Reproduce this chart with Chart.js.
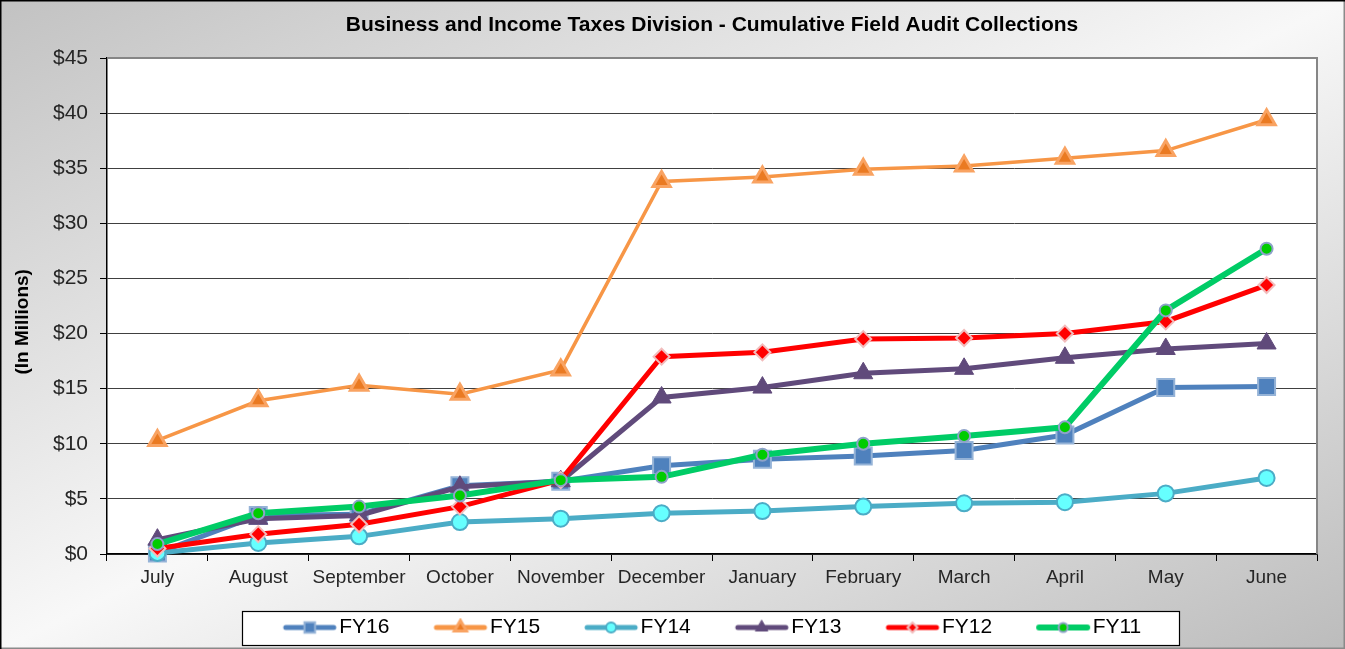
<!DOCTYPE html>
<html>
<head>
<meta charset="utf-8">
<script src="https://cdn.jsdelivr.net/npm/chart.js@4/dist/chart.umd.min.js"></script>
<style>
  html, body { margin: 0; padding: 0; background: #fff; }
  canvas { display: block; }
</style>
</head>
<body>
<canvas id="auditChart" width="1345" height="649"></canvas>
<script>
const months = ['July', 'August', 'September', 'October', 'November', 'December',
  'January', 'February', 'March', 'April', 'May', 'June'];
const seriesNames = ['FY16', 'FY15', 'FY14', 'FY13', 'FY12', 'FY11'];

// cumulative collections, $ millions
const fy16 = [0.1, 3.5, 3.6, 6.2, 6.6, 8.0, 8.6, 8.9, 9.4, 10.8, 15.1, 15.2];
const fy15 = [10.3, 13.9, 15.3, 14.5, 16.7, 33.8, 34.2, 34.9, 35.2, 35.9, 36.6, 39.4];
const fy14 = [0.1, 1.0, 1.6, 2.9, 3.2, 3.7, 3.9, 4.3, 4.6, 4.7, 5.5, 6.9];
const fy13 = [1.3, 3.2, 3.5, 6.1, 6.6, 14.2, 15.1, 16.4, 16.8, 17.8, 18.6, 19.1];
const fy12 = [0.5, 1.8, 2.7, 4.3, 6.7, 17.9, 18.3, 19.5, 19.6, 20.0, 21.1, 24.4];
const fy11 = [0.9, 3.7, 4.3, 5.3, 6.7, 7.0, 9.0, 10.0, 10.7, 11.5, 22.1, 27.7];
const seriesValues = [fy16, fy15, fy14, fy13, fy12, fy11];

const yTicks = [0, 5, 10, 15, 20, 25, 30, 35, 40, 45];

// line + marker looks, same order as seriesNames
const looks = [
  { line: '#4F81BD', width: 5, shape: 'rect', fill: '#4F81BD', edge: '#95B3D7', edgeWidth: 2, radius: 12, legendRadius: 7.5 },
  { line: '#F79646', width: 3.5, shape: 'triangle', fill: '#EA7A22', edge: '#F9A362', edgeWidth: 3, radius: 10, legendRadius: 7 },
  { line: '#4BACC6', width: 5, shape: 'circle', fill: '#66FFFF', edge: '#4BACC6', edgeWidth: 2, radius: 8, legendRadius: 5 },
  { line: '#604A7B', width: 5, shape: 'triangle', fill: '#604A7B', edge: '#604A7B', edgeWidth: 1, radius: 11, legendRadius: 7 },
  { line: '#FF0000', width: 5, shape: 'rectRot', fill: '#FF0000', edge: '#F2BCBC', edgeWidth: 2, radius: 8, legendRadius: 5 },
  { line: '#00CC66', width: 6, shape: 'circle', fill: '#00CC00', edge: '#8EA2C9', edgeWidth: 2, radius: 6, legendRadius: 4.5 }
];

// legend swatch: blank lead-in on the left, line+marker hugging the text
function makeSwatch(look) {
  const c = document.createElement('canvas');
  c.width = 90;
  c.height = 20;
  const g = c.getContext('2d');
  g.strokeStyle = look.line;
  g.lineWidth = Math.max(look.width, 5);
  g.lineCap = 'round';
  g.beginPath();
  g.moveTo(38, 10);
  g.lineTo(86, 10);
  g.stroke();
  g.fillStyle = look.fill;
  g.strokeStyle = look.edge;
  g.lineWidth = look.edgeWidth;
  Chart.helpers.drawPoint(g, { pointStyle: look.shape, radius: look.legendRadius, rotation: 0, borderWidth: look.edgeWidth }, 62, 10);
  return c;
}
const swatches = looks.map(makeSwatch);

const datasets = seriesNames.map((name, i) => ({
  label: name,
  data: seriesValues[i],
  borderColor: looks[i].line,
  borderWidth: looks[i].width,
  backgroundColor: looks[i].fill,
  pointStyle: looks[i].shape,
  pointRadius: looks[i].radius,
  pointBackgroundColor: looks[i].fill,
  pointBorderColor: looks[i].edge,
  pointBorderWidth: looks[i].edgeWidth,
  tension: 0,
  clip: false,
  order: seriesNames.length - 1 - i // later series sit on top
}));

// gradient backdrop, white plot area, legend frame
const backdrop = {
  id: 'backdrop',
  afterLayout(chart) {
    // swatches carry a blank lead-in, pull the legend row back to centre
    if (chart.legend) {
      chart.legend.left -= 13;
      chart.legend.right -= 13;
    }
  },
  beforeDraw(chart) {
    const { ctx, width, height, chartArea: a } = chart;
    ctx.save();
    ctx.setTransform(width, 0, 0, height, 0, 0);
    const g = ctx.createLinearGradient(0, 0, 1, 1);
    g.addColorStop(0, '#C2C2C2');
    g.addColorStop(0.5, '#F8F8F8');
    g.addColorStop(1, '#BCBCBC');
    ctx.fillStyle = g;
    ctx.fillRect(0, 0, 1, 1);
    ctx.restore();

    ctx.save();
    ctx.fillStyle = '#fff';
    ctx.fillRect(a.left, a.top, a.right - a.left, a.bottom - a.top);

    const hb = chart.legend && chart.legend.legendHitBoxes;
    if (hb && hb.length) {
      const first = hb[0], last = hb[hb.length - 1];
      const bx = Math.round(first.left - 15) + 0.5;
      const bw = Math.round(last.left + last.width + 38 - bx);
      const by = Math.round(first.top + first.height / 2 - 17) + 0.5;
      ctx.fillStyle = '#fff';
      ctx.fillRect(bx, by, bw, 34);
      ctx.strokeStyle = '#000';
      ctx.lineWidth = 1.2;
      ctx.strokeRect(bx, by, bw, 34);
    }
    ctx.restore();
  },
  beforeDatasetsDraw(chart) {
    const { ctx, chartArea: a } = chart;
    ctx.save();
    ctx.strokeStyle = '#868686';
    ctx.lineWidth = 2;
    ctx.beginPath();
    ctx.moveTo(a.left, a.top);
    ctx.lineTo(a.right, a.top);
    ctx.lineTo(a.right, a.bottom);
    ctx.stroke();
    ctx.restore();
  },
  afterDraw(chart) {
    const { ctx, width, height } = chart;
    ctx.save();
    ctx.lineWidth = 1.5;
    ctx.strokeStyle = '#8a8a8a';
    ctx.beginPath();
    ctx.moveTo(0, height - 0.75);
    ctx.lineTo(width - 0.75, height - 0.75);
    ctx.lineTo(width - 0.75, 0);
    ctx.stroke();
    ctx.strokeStyle = '#000';
    ctx.beginPath();
    ctx.moveTo(0.75, height);
    ctx.lineTo(0.75, 0.75);
    ctx.lineTo(width, 0.75);
    ctx.stroke();
    ctx.restore();
  }
};

const fontFamily = "'Liberation Sans', Arial, sans-serif";

new Chart(document.getElementById('auditChart').getContext('2d'), {
  type: 'line',
  data: { labels: months, datasets: datasets },
  plugins: [backdrop],
  options: {
    responsive: false,
    animation: false,
    devicePixelRatio: 1,
    layout: { padding: { left: 4, right: 28, top: 0, bottom: 1 } },
    plugins: {
      tooltip: { enabled: false },
      title: {
        display: true,
        fullSize: false,
        text: 'Business and Income Taxes Division - Cumulative Field Audit Collections',
        color: '#000',
        font: { family: fontFamily, size: 21, weight: 'bold' },
        padding: { top: 13, bottom: 19.8 }
      },
      legend: {
        position: 'bottom',
        fullSize: false,
        labels: {
          usePointStyle: true,
          pointStyleWidth: 72,
          padding: 18,
          color: '#000',
          font: { family: fontFamily, size: 21 },
          generateLabels(chart) {
            const items = Chart.defaults.plugins.legend.labels.generateLabels(chart);
            items.forEach(it => { it.pointStyle = swatches[it.datasetIndex]; });
            return items;
          },
          sort: (a, b) => a.datasetIndex - b.datasetIndex
        }
      }
    },
    scales: {
      x: {
        offset: true,
        grid: {
          display: true,
          offset: true,
          drawOnChartArea: false,
          drawTicks: true,
          tickLength: 7,
          color: '#000'
        },
        border: { display: true, color: '#000', width: 1.5 },
        ticks: {
          color: '#262626',
          padding: 5,
          maxRotation: 0,
          autoSkip: false,
          font: { family: fontFamily, size: 19 }
        },
        afterFit: s => { s.height = 45; }
      },
      y: {
        min: yTicks[0],
        max: yTicks[yTicks.length - 1],
        afterBuildTicks: s => { s.ticks = yTicks.map(v => ({ value: v })); },
        grid: {
          color: '#404040',
          lineWidth: 1,
          tickLength: 7,
          tickColor: '#000'
        },
        border: { display: true, color: '#000', width: 1.5 },
        ticks: {
          color: '#262626',
          padding: 12,
          font: { family: fontFamily, size: 21 },
          callback: v => '$' + v
        },
        title: {
          display: true,
          text: '(In Millions)      ',
          color: '#000',
          font: { family: fontFamily, size: 19, weight: 'bold' },
          padding: { top: 7, bottom: 0 }
        },
        afterFit: s => { s.width = 103; }
      }
    }
  }
});
</script>
</body>
</html>
